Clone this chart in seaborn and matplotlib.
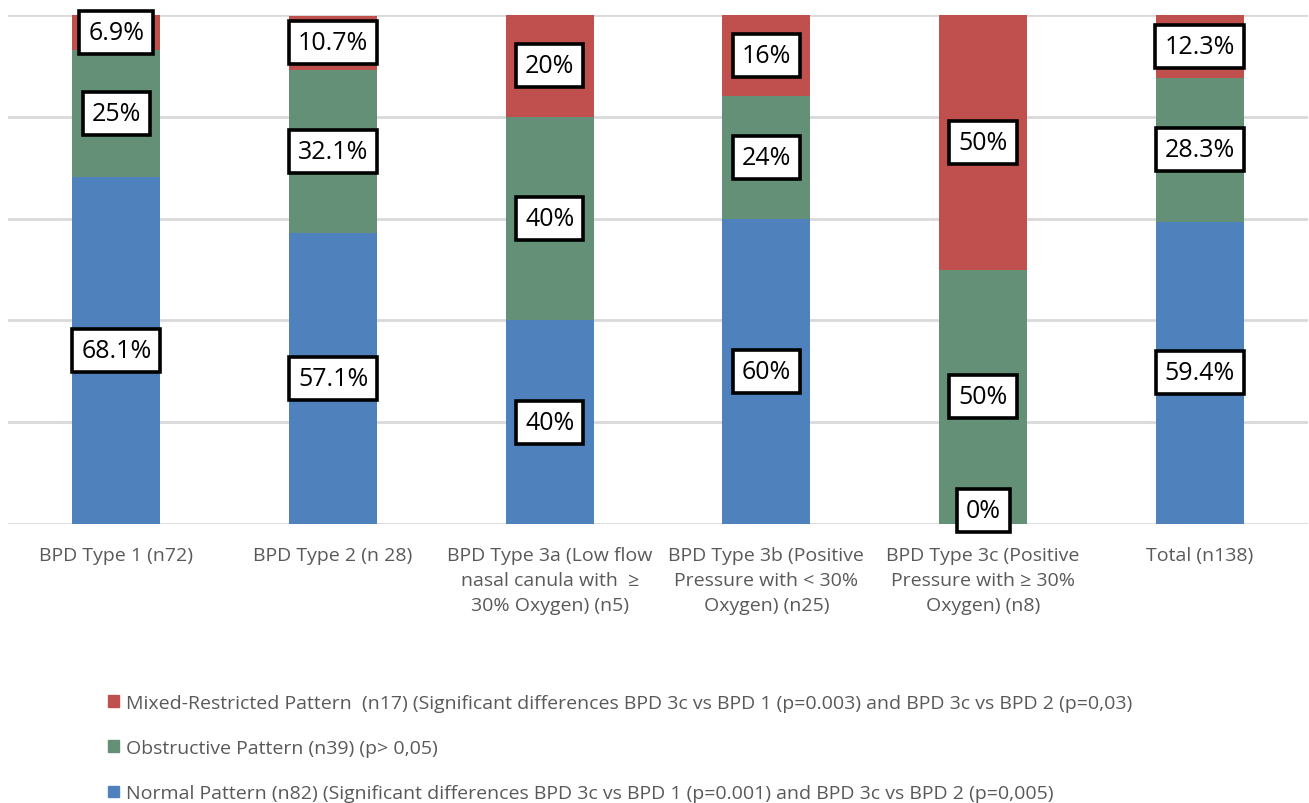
import matplotlib
matplotlib.use("Agg")
import matplotlib.pyplot as plt
import seaborn as sns
import pandas as pd
import numpy as np
from matplotlib.patches import Patch

categories = [
    "BPD Type 1 (n72)",
    "BPD Type 2 (n 28)",
    "BPD Type 3a (Low flow\nnasal canula with  \u2265\n30% Oxygen) (n5)",
    "BPD Type 3b (Positive\nPressure with < 30%\nOxygen) (n25)",
    "BPD Type 3c (Positive\nPressure with \u2265 30%\nOxygen) (n8)",
    "Total (n138)",
]
normal = [68.1, 57.1, 40, 60, 0, 59.4]
obstructive = [25, 32.1, 40, 24, 50, 28.3]
mixed = [6.9, 10.7, 20, 16, 50, 12.3]

normal_labels = ["68.1%", "57.1%", "40%", "60%", "0%", "59.4%"]
obstructive_labels = ["25%", "32.1%", "40%", "24%", "50%", "28.3%"]
mixed_labels = ["6.9%", "10.7%", "20%", "16%", "50%", "12.3%"]

legend_labels = [
    "Mixed-Restricted Pattern  (n17) (Significant differences BPD 3c vs BPD 1 (p=0.003) and BPD 3c vs BPD 2 (p=0,03)",
    "Obstructive Pattern (n39) (p> 0,05)",
    "Normal Pattern (n82) (Significant differences BPD 3c vs BPD 1 (p=0.001) and BPD 3c vs BPD 2 (p=0,005)",
]

c_blue = "#4F81BD"
c_green = "#659078"
c_red = "#C0504D"

sns.set_theme(style="white")
plt.rcParams["font.family"] = ["Open Sans", "DejaVu Sans"]

df = pd.DataFrame({
    "cat": categories,
    "normal": normal,
    "obstructive": obstructive,
    "mixed": mixed,
})
df["top_green"] = df["normal"] + df["obstructive"]
df["top_red"] = df["top_green"] + df["mixed"]

fig = plt.figure(figsize=(13.09, 8.04), dpi=100)
ax = fig.add_axes([8 / 1309, 1 - 525 / 804, 1300 / 1309, 509 / 804])

for y in [0, 20, 40, 60, 80, 100]:
    ax.axhline(y, color="#D9D9D9", lw=2, zorder=0)

w = 0.405
sns.barplot(data=df, x="cat", y="top_red", color=c_red, width=w, ax=ax,
            saturation=1, linewidth=0, zorder=2)
sns.barplot(data=df, x="cat", y="top_green", color=c_green, width=w, ax=ax,
            saturation=1, linewidth=0, zorder=2)
sns.barplot(data=df, x="cat", y="normal", color=c_blue, width=w, ax=ax,
            saturation=1, linewidth=0, zorder=2)

box = dict(boxstyle="square,pad=0.36", fc="white", ec="black", lw=2.6)
for i in range(len(categories)):
    n, o, m = normal[i], obstructive[i], mixed[i]
    yc_n = n / 2 if n > 0 else 2.6
    ax.text(i, yc_n, normal_labels[i], ha="center", va="center", fontsize=18,
            bbox=box, zorder=5, color="black")
    ax.text(i, n + o / 2, obstructive_labels[i], ha="center", va="center",
            fontsize=18, bbox=box, zorder=5, color="black")
    ax.text(i, n + o + m / 2, mixed_labels[i], ha="center", va="center",
            fontsize=18, bbox=box, zorder=5, color="black")

ax.set_ylim(0, 100)
ax.set_xlim(-0.5, len(categories) - 0.5)
ax.set_yticks([])
ax.set_xlabel("")
ax.set_ylabel("")
for s in ax.spines.values():
    s.set_visible(False)
ax.tick_params(axis="x", length=0, pad=16, labelsize=14, colors="#595959")
for lbl in ax.get_xticklabels():
    lbl.set_linespacing(1.5)
    lbl.set_va("top")

handles = [Patch(color=c_red), Patch(color=c_green), Patch(color=c_blue)]
fig.legend(handles, legend_labels, loc="upper left",
           bbox_to_anchor=(108 / 1309, 1 - 695 / 804), frameon=False,
           fontsize=14, labelcolor="#595959", handlelength=0.55,
           handleheight=0.55, handletextpad=0.4, labelspacing=1.4,
           borderaxespad=0, borderpad=0)

fig.savefig("out.png", dpi=100)
